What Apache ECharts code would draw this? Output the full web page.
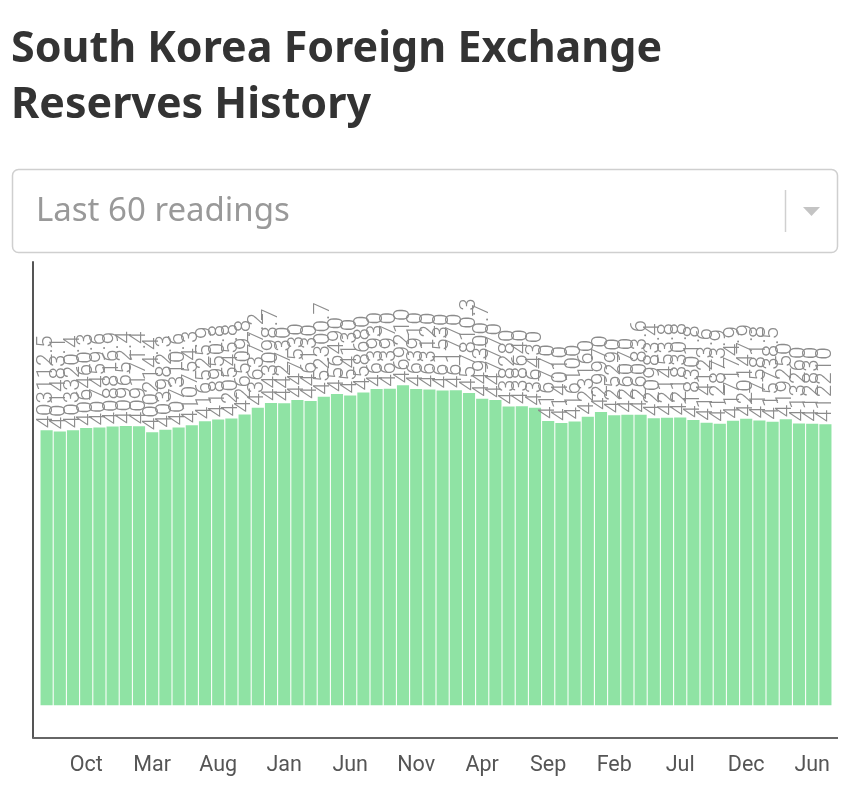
<!DOCTYPE html>
<html>
<head>
<meta charset="utf-8">
<script src="https://cdn.jsdelivr.net/npm/echarts@6/dist/echarts.min.js"></script>
<style>
  html, body { margin: 0; padding: 0; background: #fff; }
  #chart { width: 850px; height: 808px; }
</style>
</head>
<body>
<div id="chart"></div>
<script>
// Monthly readings, Jul 2019 - Jun 2024 (USD million)
var months = [
  "Jul 2019","Aug 2019","Sep 2019","Oct 2019","Nov 2019","Dec 2019",
  "Jan 2020","Feb 2020","Mar 2020","Apr 2020","May 2020","Jun 2020",
  "Jul 2020","Aug 2020","Sep 2020","Oct 2020","Nov 2020","Dec 2020",
  "Jan 2021","Feb 2021","Mar 2021","Apr 2021","May 2021","Jun 2021",
  "Jul 2021","Aug 2021","Sep 2021","Oct 2021","Nov 2021","Dec 2021",
  "Jan 2022","Feb 2022","Mar 2022","Apr 2022","May 2022","Jun 2022",
  "Jul 2022","Aug 2022","Sep 2022","Oct 2022","Nov 2022","Dec 2022",
  "Jan 2023","Feb 2023","Mar 2023","Apr 2023","May 2023","Jun 2023",
  "Jul 2023","Aug 2023","Sep 2023","Oct 2023","Nov 2023","Dec 2023",
  "Jan 2024","Feb 2024","Mar 2024","Apr 2024","May 2024","Jun 2024"
];
var reserves = [
  403112.5, 401483.1, 403320.4, 406460.3, 407459.6, 408816.9,
  409652.4, 409171.4, 400214.4, 403982.3, 407310.6, 410754.3,
  416525.9, 418950.8, 420545.8, 426509.8, 436377.2, 443098.7,
  442730, 447530, 446130, 452300.7, 456490, 454130,
  458680, 463930, 463970, 469210, 463910, 463120,
  461530, 461770, 457810.3, 449300.7, 447770, 438280,
  438640, 436430, 416770, 414010, 416100, 423160,
  429970, 425290, 426070, 426083.6, 420983.4, 421453.8,
  421830.8, 418301.8, 414123.6, 412873.9, 417174.9, 420147.9,
  417581.8, 415738.5, 419250, 413260, 412830, 412210
];
// x-axis tick labels as shown (every 5th reading, starting at the 4th)
var tickLabels = ["Oct","Mar","Aug","Jan","Jun","Nov","Apr","Sep","Feb","Jul","Dec","Jun"];
var tickStart = 3, tickStep = 5;

var chart = echarts.init(document.getElementById('chart'), null, {renderer: 'canvas'});
chart.setOption({
  animation: false,
  backgroundColor: '#fff',
  title: {
    text: 'South Korea Foreign Exchange\nReserves History',
    left: 11,
    top: 22,
    padding: 0,
    textStyle: {
      fontFamily: 'Noto Sans',
      fontWeight: 'bold',
      fontSize: 43,
      lineHeight: 56,
      color: '#333'
    }
  },
  graphic: [
    {
      type: 'rect',
      shape: {x: 12.5, y: 169.5, width: 825, height: 83, r: 6},
      style: {fill: '#fff', stroke: '#cfcfcf', lineWidth: 1.5},
      z: 1
    },
    {
      type: 'text',
      x: 36, y: 212,
      style: {
        text: 'Last 60 readings',
        fontFamily: 'Noto Sans',
        fontSize: 33,
        fill: '#999',
        verticalAlign: 'middle',
        align: 'left'
      },
      z: 2
    },
    {
      type: 'line',
      shape: {x1: 785.5, y1: 190, x2: 785.5, y2: 232},
      style: {stroke: '#d0d0d0', lineWidth: 1.5},
      z: 2
    },
    {
      type: 'polygon',
      shape: {points: [[803, 207], [820, 207], [811.5, 216]]},
      style: {fill: '#c4c4c4'},
      z: 2
    },
    {
      type: 'line',
      shape: {x1: 33, y1: 738, x2: 838, y2: 738},
      style: {stroke: '#666', lineWidth: 2},
      z: 10
    }
  ],
  grid: {left: 40, top: 262, width: 792, height: 476},
  xAxis: {
    type: 'category',
    data: months,
    boundaryGap: true,
    axisLine: {show: false},
    axisTick: {show: false},
    splitLine: {show: false},
    axisLabel: {
      interval: function (index) { return index >= tickStart && (index - tickStart) % tickStep === 0; },
      formatter: function (value, index) {
        var k = Math.round((index - tickStart) / tickStep);
        return tickLabels[k] || '';
      },
      margin: 17,
      fontFamily: 'Roboto',
      fontSize: 21.5,
      color: '#555'
    }
  },
  yAxis: {
    type: 'value',
    min: -48000,
    max: 650000,
    offset: 7,
    axisLine: {show: true, lineStyle: {color: '#555', width: 2}},
    axisTick: {show: false},
    axisLabel: {show: false},
    splitLine: {show: false}
  },
  series: [{
    type: 'bar',
    data: reserves,
    barCategoryGap: '8%',
    itemStyle: {color: '#8fe3a4'},
    label: {
      show: true,
      position: 'top',
      rotate: 90,
      align: 'left',
      verticalAlign: 'middle',
      distance: 2,
      fontFamily: 'Roboto',
      fontWeight: 300,
      fontSize: 22.5,
      color: '#8c8c8c'
    }
  }]
});
</script>
</body>
</html>
